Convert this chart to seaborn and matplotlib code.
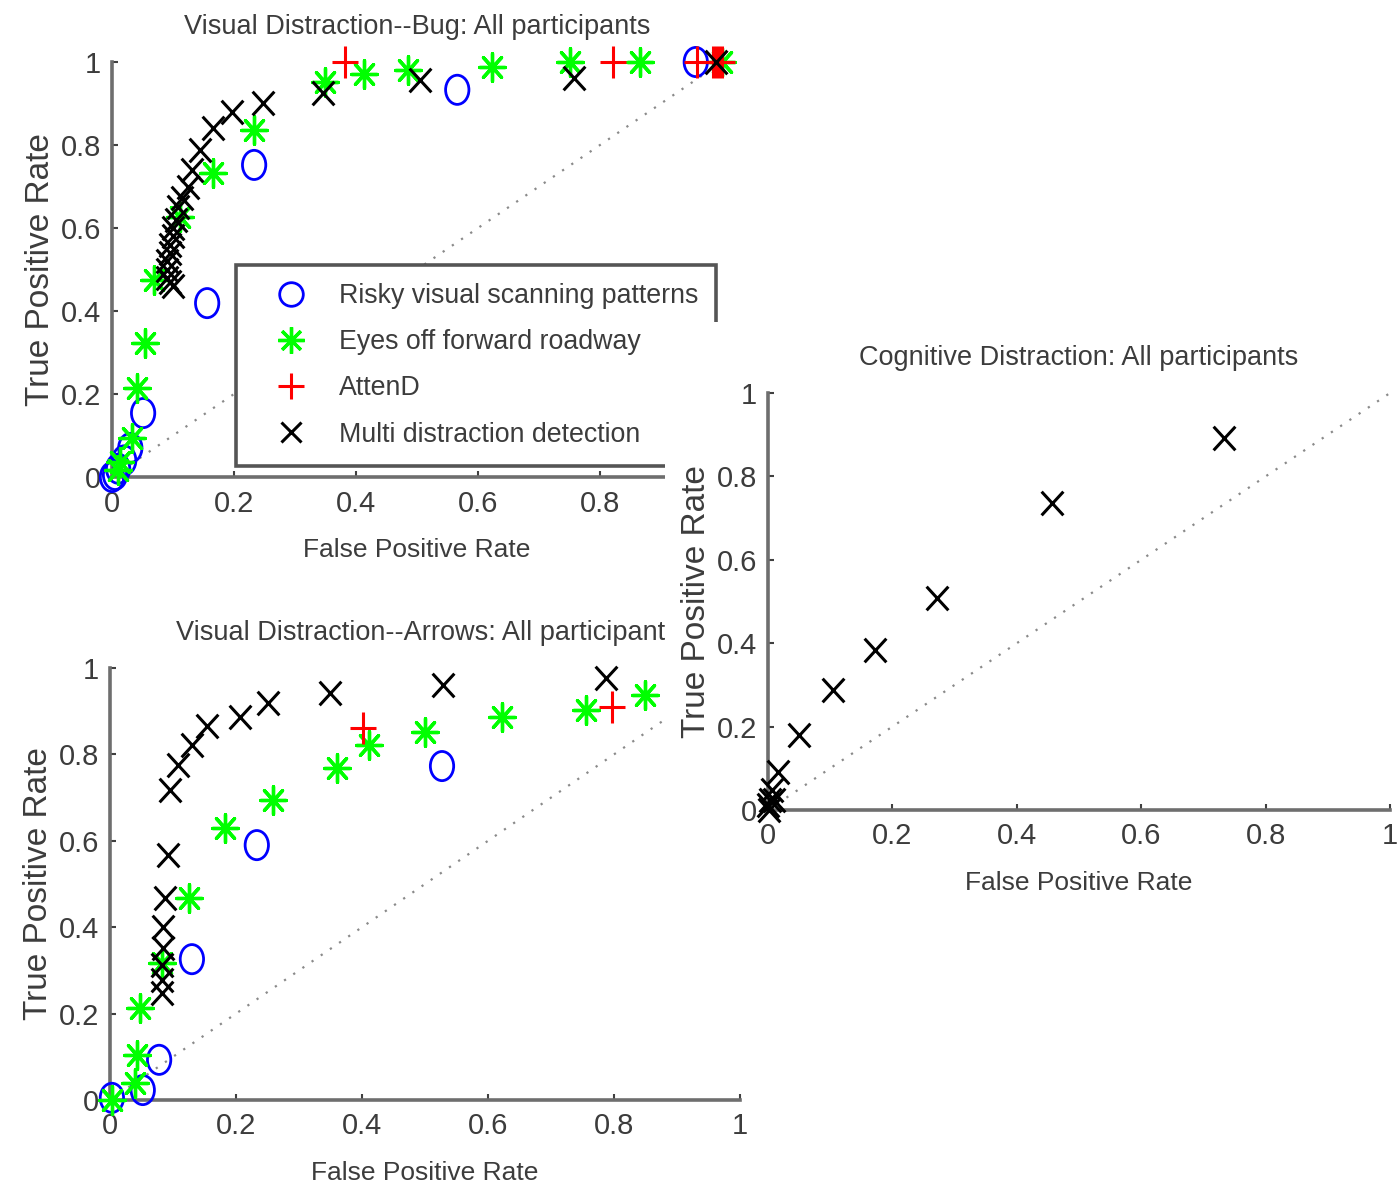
import numpy as np
import pandas as pd
import matplotlib
matplotlib.use("Agg")
import matplotlib.pyplot as plt
from matplotlib.markers import MarkerStyle
from matplotlib.transforms import Affine2D
from matplotlib.lines import Line2D
from matplotlib.patches import Rectangle
from matplotlib.ticker import FuncFormatter
import seaborn as sns

sns.set_style("white")
plt.rcParams['font.family'] = ['Liberation Sans Narrow', 'Liberation Sans', 'DejaVu Sans']

# ---------------- data ----------------
ticks = [0, 0.2, 0.4, 0.6, 0.8, 1]
diagonal = [0, 1]
labels = ["Risky visual scanning patterns", "Eyes off forward roadway",
          "AttenD", "Multi distraction detection"]

# Visual Distraction -- Bug
bug_risky_fpr = [0.957, 0.566, 0.233, 0.156, 0.051, 0.03, 0.02, 0.01, 0.005, 0.0]
bug_risky_tpr = [1.0, 0.933, 0.752, 0.419, 0.154, 0.07, 0.04, 0.02, 0.005, 0.0]
bug_eyes_fpr = [1.0, 0.866, 0.751, 0.623, 0.485, 0.413, 0.349, 0.233, 0.166, 0.111,
                0.069, 0.054, 0.041, 0.033, 0.013, 0.01]
bug_eyes_tpr = [1.0, 1.0, 1.0, 0.988, 0.98, 0.971, 0.952, 0.836, 0.733, 0.627,
                0.475, 0.323, 0.214, 0.094, 0.036, 0.017]
bug_attend_fpr = [0.382, 0.821, 0.959, 0.985, 0.99, 0.995, 1.0]
bug_attend_tpr = [1.0, 1.0, 1.0, 1.0, 1.0, 1.0, 1.0]
bug_multi_fpr = [0.99, 0.757, 0.505, 0.346, 0.248, 0.197, 0.166, 0.144, 0.131, 0.125,
                 0.115, 0.108, 0.105, 0.1, 0.1, 0.095, 0.095, 0.09, 0.09, 0.09, 0.095, 0.1]
bug_multi_tpr = [1.0, 0.961, 0.957, 0.925, 0.901, 0.88, 0.841, 0.788, 0.74, 0.70,
                 0.672, 0.651, 0.62, 0.6, 0.58, 0.56, 0.54, 0.52, 0.5, 0.48, 0.47, 0.46]

# Visual Distraction -- Arrows
arr_risky_fpr = [0.527, 0.233, 0.13, 0.078, 0.052, 0.003]
arr_risky_tpr = [0.773, 0.59, 0.326, 0.093, 0.023, 0.005]
arr_eyes_fpr = [0.849, 0.756, 0.622, 0.5, 0.411, 0.36, 0.259, 0.183, 0.125,
                0.083, 0.048, 0.043, 0.04, 0.003]
arr_eyes_tpr = [0.938, 0.903, 0.887, 0.852, 0.822, 0.769, 0.694, 0.63, 0.468,
                0.317, 0.213, 0.104, 0.039, 0.0]
arr_attend_fpr = [0.402, 0.797]
arr_attend_tpr = [0.861, 0.91]
arr_multi_fpr = [0.787, 0.529, 0.349, 0.251, 0.206, 0.154, 0.130, 0.108, 0.095,
                 0.092, 0.087, 0.084, 0.084, 0.082, 0.082, 0.082]
arr_multi_tpr = [0.977, 0.961, 0.942, 0.919, 0.887, 0.866, 0.822, 0.775, 0.718,
                 0.567, 0.468, 0.40, 0.352, 0.313, 0.278, 0.248]

# Cognitive Distraction
cog_multi_fpr = [0.733, 0.457, 0.272, 0.172, 0.105, 0.05, 0.016, 0.006, 0.01, 0.003, 0.0, 0.002]
cog_multi_tpr = [0.892, 0.736, 0.508, 0.384, 0.288, 0.18, 0.091, 0.048, 0.024, 0.024, 0.012, 0.0]

# ---------------- styling ----------------
TXT = '#3c3c3c'
AX = '#6e6e6e'
BLUE, GREEN, RED, BLACK = '#0000ff', '#00ff00', '#ff0000', '#000000'

m_circle = MarkerStyle('o', fillstyle='none', transform=Affine2D().scale(0.8, 1.0))
m_star = MarkerStyle((8, 2, 0), transform=Affine2D().scale(0.92, 1.0))
m_plus = MarkerStyle('+', transform=Affine2D().scale(0.8, 1.0))
m_x = MarkerStyle('x', transform=Affine2D().scale(0.92, 1.0))

fig = plt.figure(figsize=(13.98, 11.88), dpi=100)
W, H = 1398.0, 1188.0


def px_axes(x0, x1, y_top, y_bot, z):
    ax = fig.add_axes([x0 / W, 1 - y_bot / H, (x1 - x0) / W, (y_bot - y_top) / H])
    ax.set_zorder(z)
    return ax


def style(ax, title, xl, yl, title_x=0.5):
    ax.set_xlim(0, 1)
    ax.set_ylim(0, 1)
    ax.set_xticks(ticks)
    ax.set_yticks(ticks)
    fmt = FuncFormatter(lambda v, p: f"{v:g}")
    ax.xaxis.set_major_formatter(fmt)
    ax.yaxis.set_major_formatter(fmt)
    for s in ['top', 'right']:
        ax.spines[s].set_visible(False)
    for s in ['left', 'bottom']:
        ax.spines[s].set_color(AX)
        ax.spines[s].set_linewidth(2.6)
    ax.tick_params(bottom=True, left=True, direction='in', length=4, width=1.5,
                   color='#404040', labelsize=21, labelcolor=TXT)
    ax.tick_params(axis='x', pad=9)
    ax.tick_params(axis='y', pad=8)
    ax.set_facecolor('none')
    ax.set_title(title, fontsize=19.5, color=TXT, pad=20, x=title_x)
    ax.set_xlabel(xl, fontsize=19, color=TXT, labelpad=15)
    ax.set_ylabel(yl, fontsize=24, color=TXT, labelpad=3.5)
    ax.plot(diagonal, diagonal, ls=(0, (1, 4)), color='#8a8a8a', lw=1.6, zorder=1)


def pts(ax, x, y, marker, color, s, lw, z):
    sns.scatterplot(x=x, y=y, ax=ax, marker=marker, color=color, s=s,
                    linewidth=lw, clip_on=False, zorder=z, legend=False)


# ---------- top-left: Bug ----------
ax1 = px_axes(112, 722, 62, 477, 1)
style(ax1, "Visual Distraction--Bug: All participants",
      "False Positive Rate", "True Positive Rate")
# the "1" tick label of this axis is hidden behind the right-hand panel
ax1.get_xticklabels()[-1].set_visible(False)
pts(ax1, bug_risky_fpr, bug_risky_tpr, m_circle, BLUE, 441, 2.0, 3)
pts(ax1, bug_eyes_fpr, bug_eyes_tpr, m_star, GREEN, 400, 2.4, 4)
pts(ax1, bug_attend_fpr, bug_attend_tpr, m_plus, RED, 520, 2.2, 5)
pts(ax1, bug_multi_fpr, bug_multi_tpr, m_x, BLACK, 290, 2.2, 6)

handles = [
    Line2D([], [], ls='none', marker='o', mfc='none', mec=BLUE, ms=17, mew=2.0),
    Line2D([], [], ls='none', marker=(8, 2, 0), mec=GREEN, ms=19, mew=2.4),
    Line2D([], [], ls='none', marker='+', mec=RED, ms=19, mew=2.2),
    Line2D([], [], ls='none', marker='x', mec=BLACK, ms=15, mew=2.2),
]
leg = ax1.legend(handles, labels, loc='upper left',
                 bbox_to_anchor=(236 / W, 1 - 265 / H), bbox_transform=fig.transFigure,
                 borderaxespad=0, borderpad=0.68, handlelength=2.75, handletextpad=0.4,
                 labelspacing=0.75, fontsize=19.3, frameon=True, fancybox=False,
                 framealpha=1, edgecolor='#555555', facecolor='white')
leg.get_frame().set_linewidth(2.6)
for t in leg.get_texts():
    t.set_color(TXT)

# ---------- bottom-left: Arrows ----------
ax2 = px_axes(110, 740, 668, 1100, 1)
style(ax2, "Visual Distraction--Arrows: All participants",
      "False Positive Rate", "True Positive Rate", title_x=0.5035)
pts(ax2, arr_risky_fpr, arr_risky_tpr, m_circle, BLUE, 441, 2.0, 3)
pts(ax2, arr_eyes_fpr, arr_eyes_tpr, m_star, GREEN, 400, 2.4, 4)
pts(ax2, arr_attend_fpr, arr_attend_tpr, m_plus, RED, 520, 2.2, 5)
pts(ax2, arr_multi_fpr, arr_multi_tpr, m_x, BLACK, 290, 2.2, 6)

# white panel behind the right-hand chart (covers part of the left charts)
cover = Rectangle((665 / W, 1 - 905 / H), (W - 665) / W, (905 - 322) / H,
                  transform=fig.transFigure, facecolor='white', edgecolor='none', zorder=2)
fig.add_artist(cover)

# ---------- right: Cognitive ----------
ax3 = px_axes(768, 1390, 393, 810, 3)
style(ax3, "Cognitive Distraction: All participants",
      "False Positive Rate", "True Positive Rate")
pts(ax3, cog_multi_fpr, cog_multi_tpr, m_x, BLACK, 290, 2.2, 6)

fig.savefig("out.png", dpi=100, facecolor='white')
